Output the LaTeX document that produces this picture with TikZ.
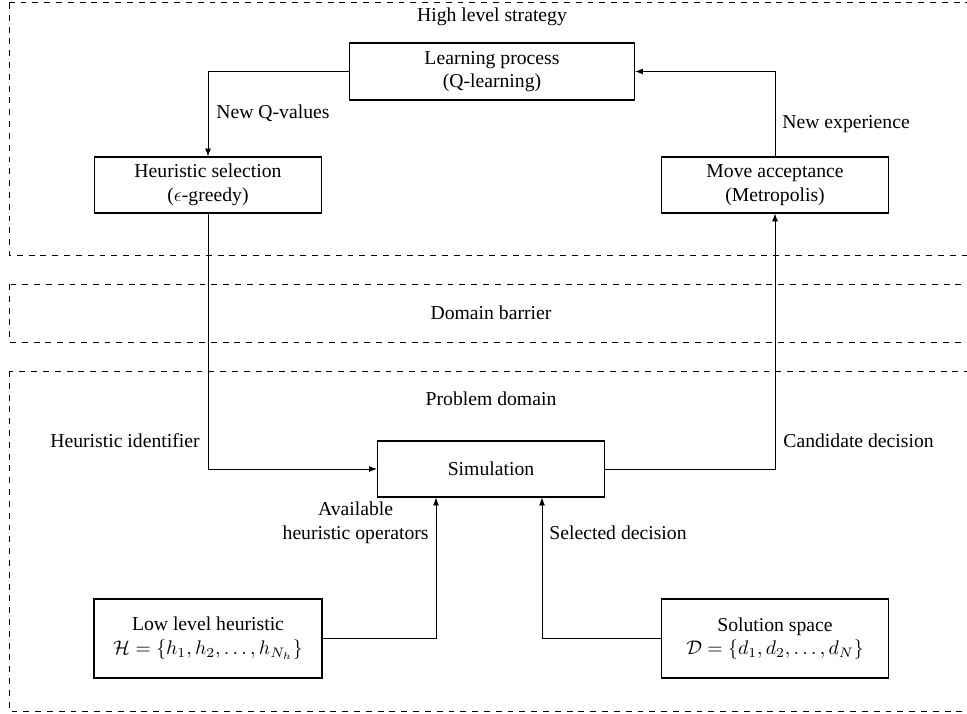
\documentclass[tikz,border=0pt]{standalone}
\usepackage{fontspec}
\setmainfont{Liberation Serif}
\usetikzlibrary{arrows.meta}
\tikzset{
  blk/.style={draw, line width=0.6pt, align=center, inner sep=0pt, font=\fontsize{10}{12}\selectfont},
  zone/.style={draw, dashed, line width=0.5pt},
  lbl/.style={align=center, inner sep=0pt, font=\fontsize{10}{12}\selectfont},
  conn/.style={line width=0.4pt, -{Latex[length=4pt,width=3pt]}}
}
\begin{document}
\begin{tikzpicture}[x=0.508pt, y=-0.508pt]
\clip (0,0) rectangle (967,714);
\useasboundingbox (0,0) rectangle (967,714);
% zones
\draw[zone] (9,3) rectangle (1000,255);
\draw[zone] (9,284) rectangle (1000,342);
\draw[zone] (9,371) rectangle (1000,711);
\node[lbl] (hls) at (492,17) {High level strategy};
\node[lbl] (db) at (491,313) {Domain barrier};
\node[lbl] (pd) at (491,399) {Problem domain};
% blocks
\node[blk, minimum width=144.8pt, minimum height=29pt] (lp) at (492,71.5) {Learning process\\(Q-learning)};
\node[blk, minimum width=115.3pt, minimum height=28.4pt] (hs) at (208,185) {Heuristic selection\\($\epsilon$-greedy)};
\node[blk, minimum width=115.3pt, minimum height=28.4pt] (ma) at (775,185) {Move acceptance\\(Metropolis)};
\node[blk, minimum width=115.3pt, minimum height=28.4pt] (sim) at (491,469) {Simulation};
\node[blk, minimum width=115.8pt, minimum height=40.1pt] (llh) at (208,638.5) {Low level heuristic\\$\mathcal{H}=\{h_1,h_2,\ldots,h_{N_h}\}$};
\node[blk, minimum width=115.3pt, minimum height=40.1pt] (ss) at (775,638.5) {Solution space\\$\mathcal{D}=\{d_1,d_2,\ldots,d_N\}$};
% connectors
\draw[conn] (lp.west) -| (hs.north);
\draw[conn] (ma.north) |- (lp.east);
\draw[conn] (hs.south) |- (sim.west);
\draw[conn] (sim.east) -| (ma.south);
\coordinate (a1) at (436,638.5);
\coordinate (a2) at (542,638.5);
\draw[conn] (llh.east) -- (a1) -- (a1 |- sim.south);
\draw[conn] (ss.west) -- (a2) -- (a2 |- sim.south);
% labels
\node[lbl, anchor=west] (l1) at (216,113) {New Q-values};
\node[lbl, anchor=west] (l2) at (782,124) {New experience};
\node[lbl, anchor=east] (l3) at (200,441) {Heuristic identifier};
\node[lbl, anchor=west] (l4) at (783,441) {Candidate decision};
\node[lbl, anchor=east] (l5) at (429,523) {Available\\heuristic operators};
\node[lbl, anchor=west] (l6) at (549,533) {Selected decision};
\end{tikzpicture}
\end{document}
